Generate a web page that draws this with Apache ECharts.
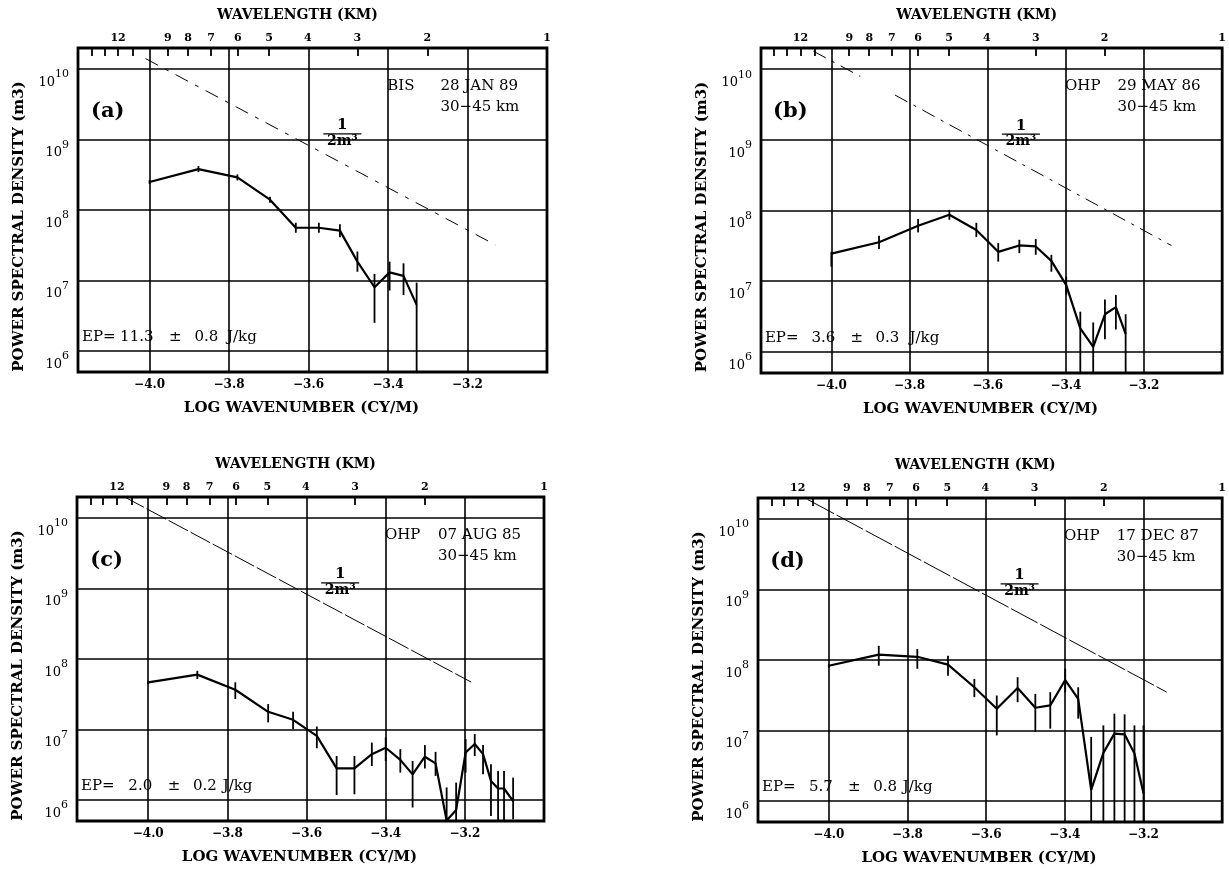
<!DOCTYPE html>
<html><head><meta charset="utf-8">
<script src="https://cdn.jsdelivr.net/npm/echarts@6/dist/echarts.min.js"></script>
<style>html,body{margin:0;padding:0;background:#fff}#c{width:1229px;height:870px}</style>
</head><body><div id="c"></div>
<script>
// ---------- tick values ----------
const xTicks = [-4.0, -3.8, -3.6, -3.4, -3.2];            // log10 wavenumber (cy/m)
const decades = [6, 7, 8, 9, 10];                          // log10 PSD
const wavelengthLabels = [12, 9, 8, 7, 6, 5, 4, 3, 2, 1];  // km
const wavelengthTicks = [14, 13, 12, 11, 9, 8, 7, 6, 5, 3, 2];

// ---------- panel (a) BIS 28 JAN 89 ----------
const aLogK = [-4.000, -3.877, -3.779, -3.697, -3.632, -3.574, -3.521, -3.477, -3.434, -3.396, -3.361, -3.328];
const aPSD  = [2.5e8, 3.8e8, 2.9e8, 1.4e8, 5.6e7, 5.6e7, 5.1e7, 1.85e7, 8.0e6, 1.3e7, 1.16e7, 4.5e6];
const aLow  = [2.35e8, 3.45e8, 2.63e8, 1.27e8, 4.75e7, 4.75e7, 4.1e7, 1.33e7, 2.5e6, 7.2e6, 6.2e6, 3e5];
const aHigh = [2.65e8, 4.2e8, 3.2e8, 1.54e8, 6.6e7, 6.6e7, 6.3e7, 2.57e7, 1.24e7, 1.85e7, 1.75e7, 9.3e6];
const aRefLogK = [[-4.01, -3.13]];
const aRefPSD  = [[1.41e10, 3.2e7]];

// ---------- panel (b) OHP 29 MAY 86 ----------
const bLogK = [-4.000, -3.878, -3.778, -3.698, -3.629, -3.573, -3.519, -3.477, -3.437, -3.399, -3.363, -3.330, -3.300, -3.272, -3.247];
const bPSD  = [2.45e7, 3.55e7, 6.1e7, 8.7e7, 5.3e7, 2.6e7, 3.2e7, 3.1e7, 1.94e7, 8.8e6, 2.15e6, 1.17e6, 3.4e6, 4.3e6, 1.8e6];
const bLow  = [1.6e7, 2.85e7, 4.9e7, 7.4e7, 4.2e7, 1.89e7, 2.49e7, 2.36e7, 1.36e7, 6.4e6, 3e5, 3e5, 1.5e6, 2.07e6, 3e5];
const bHigh = [2.6e7, 4.4e7, 7.6e7, 1.02e8, 6.7e7, 3.46e7, 3.85e7, 3.94e7, 2.36e7, 1.16e7, 3.7e6, 2.6e6, 5.5e6, 6.4e6, 3.4e6];
const bRefLogK = [[-4.046, -3.926], [-3.837, -3.13]];
const bRefPSD  = [[1.8e10, 7.9e9], [4.3e9, 3.2e7]];

// ---------- panel (c) OHP 07 AUG 85 ----------
const cLogK = [-4.000, -3.876, -3.780, -3.697, -3.634, -3.574, -3.524, -3.479, -3.435, -3.400, -3.363, -3.332, -3.301, -3.274, -3.246, -3.222, -3.198, -3.175, -3.154, -3.134, -3.116, -3.101, -3.078];
const cPSD  = [4.65e7, 6.0e7, 3.66e7, 1.78e7, 1.37e7, 8.1e6, 2.8e6, 2.8e6, 4.46e6, 5.5e6, 3.7e6, 2.3e6, 4.1e6, 3.3e6, 5.1e5, 7.2e5, 4.7e6, 6.2e6, 4.46e6, 1.86e6, 1.45e6, 1.45e6, 9.6e5];
const cLow  = [4.4e7, 5.2e7, 2.7e7, 1.26e7, 1.01e7, 5.4e6, 1.17e6, 1.2e6, 3.03e6, 3.57e6, 2.44e6, 7.8e5, 2.79e6, 2.19e6, 3e5, 3e5, 2.44e6, 4.2e6, 2.31e6, 5.9e5, 3e5, 3e5, 5.3e5];
const cHigh = [4.9e7, 6.8e7, 4.67e7, 2.29e7, 1.78e7, 1.10e7, 4.2e6, 4.2e6, 6.5e6, 7.7e6, 5.25e6, 3.57e6, 6.0e6, 4.8e6, 1.5e6, 1.76e6, 7.3e6, 8.6e6, 6.0e6, 3.2e6, 2.58e6, 2.58e6, 2.07e6];
const cRefLogK = [[-4.06, -3.184]];
const cRefPSD  = [[2.0e10, 4.7e7]];

// ---------- panel (d) OHP 17 DEC 87 ----------
const dLogK = [-4.000, -3.873, -3.775, -3.697, -3.630, -3.573, -3.520, -3.475, -3.437, -3.399, -3.366, -3.333, -3.302, -3.274, -3.248, -3.223, -3.200];
const dPSD  = [8.3e7, 1.19e8, 1.11e8, 8.6e7, 4.1e7, 2.03e7, 4.0e7, 2.1e7, 2.27e7, 5.2e7, 2.8e7, 1.43e6, 4.8e6, 9.0e6, 8.8e6, 4.7e6, 1.28e6];
const dLow  = [7.8e7, 8.3e7, 7.5e7, 6.0e7, 2.97e7, 8.5e6, 2.52e7, 9.5e6, 1.06e7, 3.49e7, 1.47e7, 3e5, 3e5, 3e5, 3e5, 3e5, 3e5];
const dHigh = [8.8e7, 1.59e8, 1.43e8, 1.15e8, 5.4e7, 3.13e7, 5.7e7, 3.31e7, 3.49e7, 7.5e7, 4.1e7, 8.1e6, 1.18e7, 1.73e7, 1.69e7, 1.18e7, 1.18e7];
const dRefLogK = [[-4.054, -3.141]];
const dRefPSD  = [[1.9e10, 3.5e7]];

// ---------- texts ----------
const panelLetters = ['(a)', '(b)', '(c)', '(d)'];
const sites = ['BIS', 'OHP', 'OHP', 'OHP'];
const dates = ['28 JAN 89', '29 MAY 86', '07 AUG 85', '17 DEC 87'];
const altitude = '30\u221245 km';
const epValues = ['11.3', '3.6', '2.0', '5.7'];
const epErrors = ['0.8', '0.3', '0.2', '0.8'];
const epUnit = 'J/kg';

// ---------- layout ----------
const FONT = '"DejaVu Serif", "Liberation Serif", serif';
const XMIN = -4.18, XMAX = -3.0, YMIN = 5.7, YMAX = 10.3;
const panels = [
  {logK: aLogK, psd: aPSD, lo: aLow, hi: aHigh, refK: aRefLogK, refP: aRefPSD, dash: [14, 8, 4, 8],
   grid: {left: 78, top: 48, width: 469, height: 324}, unitX: -3.805},
  {logK: bLogK, psd: bPSD, lo: bLow, hi: bHigh, refK: bRefLogK, refP: bRefPSD, dash: [14, 7, 3, 7],
   grid: {left: 761, top: 48, width: 466, height: 325}, unitX: -3.80},
  {logK: cLogK, psd: cPSD, lo: cLow, hi: cHigh, refK: cRefLogK, refP: cRefPSD, dash: [22, 3],
   grid: {left: 77, top: 497, width: 467, height: 324}, unitX: -3.812},
  {logK: dLogK, psd: dPSD, lo: dLow, hi: dHigh, refK: dRefLogK, refP: dRefPSD, dash: [30, 3],
   grid: {left: 758, top: 498, width: 468, height: 324}, unitX: -3.812}
];
const L = Math.log10;
const w2x = w => L(1 / (w * 1000));

function annots(i) {
  const p = panels[i];
  return [
    {x: -4.105, y: 9.40, t: panelLetters[i], size: 21, weight: 'bold', align: 'center'},
    {x: -3.402, y: 9.76, t: sites[i], size: 15, align: 'left'},
    {x: -3.268, y: 9.76, t: dates[i], size: 15, align: 'left'},
    {x: -3.268, y: 9.46, t: altitude, size: 15, align: 'left'},
    {x: -4.17, y: 6.19, t: 'EP=', size: 15, align: 'left'},
    {x: -3.99, y: 6.19, t: epValues[i], size: 15, align: 'right'},
    {x: -3.935, y: 6.19, t: '\u00b1', size: 15, align: 'center'},
    {x: -3.887, y: 6.19, t: epErrors[i], size: 15, align: 'left'},
    {x: p.unitX, y: 6.19, t: epUnit, size: 15, align: 'left'},
    {x: -3.515, y: 9.08, frac: true}
  ];
}

const option = {
  animation: false,
  backgroundColor: '#fff',
  textStyle: {fontFamily: FONT, color: '#000'},
  grid: [], xAxis: [], yAxis: [], series: []
};

panels.forEach((p, i) => {
  option.grid.push(Object.assign({show: true, borderColor: '#000', borderWidth: 2.8, backgroundColor: 'transparent'}, p.grid));
  const nameStyle = {fontFamily: FONT, fontWeight: 'bold', fontSize: 15, color: '#000'};
  option.xAxis.push({
    gridIndex: i, type: 'value', min: XMIN, max: XMAX, position: 'bottom',
    axisLine: {show: false}, axisTick: {show: false}, splitLine: {show: false},
    axisLabel: {customValues: xTicks, formatter: v => v.toFixed(1).replace('-', '\u2212'), margin: 7,
      fontFamily: FONT, fontWeight: 'bold', fontSize: 12, color: '#000'},
    name: 'LOG WAVENUMBER (CY/M)', nameLocation: 'middle', nameGap: 29,
    nameTextStyle: Object.assign({}, nameStyle, {padding: [0, 22, 0, 0]})
  });
  option.xAxis.push({
    gridIndex: i, type: 'value', min: XMIN, max: XMAX, position: 'top',
    axisLine: {show: false}, splitLine: {show: false},
    axisTick: {show: true, inside: true, length: 8, customValues: wavelengthTicks.map(w2x), lineStyle: {color: '#000', width: 1.8}},
    axisLabel: {customValues: wavelengthLabels.map(w2x), formatter: v => String(Math.round(Math.pow(10, -v) / 1000)), margin: 4,
      fontFamily: FONT, fontWeight: 'bold', fontSize: 11, color: '#000'},
    name: 'WAVELENGTH (KM)', nameLocation: 'middle', nameGap: 26,
    nameTextStyle: Object.assign({}, nameStyle, {fontSize: 14, padding: [0, 30, 0, 0]})
  });
  option.yAxis.push({
    gridIndex: i, type: 'value', min: YMIN, max: YMAX,
    axisLine: {show: false}, axisTick: {show: false}, splitLine: {show: false},
    axisLabel: {customValues: decades, formatter: v => '{b|10}{s|' + v + '}', margin: 9, verticalAlign: 'top',
      rich: {b: {fontFamily: FONT, fontSize: 13, color: '#000', lineHeight: 20, verticalAlign: 'bottom'},
             s: {fontFamily: FONT, fontSize: 11, color: '#000', lineHeight: 8, verticalAlign: 'top'}}},
    name: 'POWER SPECTRAL DENSITY (m3)', nameLocation: 'middle', nameGap: 51, nameRotate: 90,
    nameTextStyle: Object.assign({}, nameStyle, {padding: [0, 33, 0, 0]})
  });
  const xi = i * 2, yi = i;
  // grid lines
  option.series.push({
    type: 'line', xAxisIndex: xi, yAxisIndex: yi, data: [[-4.0, 6]], showSymbol: false, symbol: 'none',
    lineStyle: {opacity: 0}, silent: true, z: 1,
    markLine: {silent: true, symbol: 'none', label: {show: false},
      lineStyle: {color: '#000', width: 1.6, type: 'solid'},
      data: xTicks.map(v => ({xAxis: v})).concat(decades.map(v => ({yAxis: v})))}
  });
  // m^-3 reference line
  p.refK.forEach((seg, s) => {
    option.series.push({
      type: 'line', xAxisIndex: xi, yAxisIndex: yi, showSymbol: false, symbol: 'none', silent: true, z: 3,
      data: seg.map((x, k) => [x, L(p.refP[s][k])]),
      lineStyle: {color: '#000', width: 1, type: p.dash}
    });
  });
  // spectrum
  option.series.push({
    type: 'line', xAxisIndex: xi, yAxisIndex: yi, showSymbol: false, symbol: 'none', z: 4, clip: true,
    data: p.logK.map((x, k) => [x, L(p.psd[k])]),
    lineStyle: {color: '#000', width: 2.2}
  });
  // error bars
  option.series.push({
    type: 'custom', xAxisIndex: xi, yAxisIndex: yi, z: 5, encode: {x: 0, y: [1, 2]},
    data: p.logK.map((x, k) => [x, L(p.lo[k]), L(p.hi[k])]),
    renderItem: (params, api) => {
      const cs = params.coordSys;
      const a = api.coord([api.value(0), api.value(1)]);
      const b = api.coord([api.value(0), api.value(2)]);
      const clampY = y => Math.max(cs.y, Math.min(cs.y + cs.height, y));
      return {type: 'line', shape: {x1: a[0], y1: clampY(a[1]), x2: b[0], y2: clampY(b[1])},
              style: {stroke: '#000', lineWidth: 1.8}};
    }
  });
  // annotations
  const an = annots(i);
  option.series.push({
    type: 'custom', xAxisIndex: xi, yAxisIndex: yi, z: 6, silent: true, encode: {x: 0, y: 1},
    data: an.map(a => [a.x, a.y]),
    renderItem: (params, api) => {
      const a = an[params.dataIndex];
      const pt = api.coord([api.value(0), api.value(1)]);
      if (a.frac) {
        return {type: 'group', children: [
          {type: 'text', x: pt[0], y: pt[1] - 1, style: {text: '1', fontFamily: FONT, fontWeight: 'bold', fontSize: 15, fill: '#000', align: 'center', verticalAlign: 'bottom'}},
          {type: 'line', shape: {x1: pt[0] - 19, y1: pt[1], x2: pt[0] + 19, y2: pt[1]}, style: {stroke: '#000', lineWidth: 1.3}},
          {type: 'text', x: pt[0], y: pt[1] + 0, style: {text: '2m\u00b3', fontFamily: FONT, fontWeight: 'bold', fontSize: 14, fill: '#000', align: 'center', verticalAlign: 'top'}}
        ]};
      }
      return {type: 'text', x: pt[0], y: pt[1], style: {text: a.t, fontFamily: FONT, fontWeight: a.weight || 'normal',
        fontSize: a.size, fill: '#000', align: a.align, verticalAlign: 'middle'}};
    }
  });
});

const chart = echarts.init(document.getElementById('c'), null, {renderer: 'canvas'});
chart.setOption(option);
</script>
</body></html>
